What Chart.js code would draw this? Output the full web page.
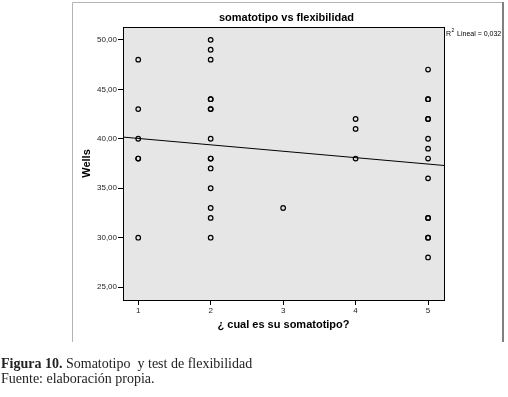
<!DOCTYPE html>
<html>
<head>
<meta charset="utf-8">
<script src="https://cdn.jsdelivr.net/npm/chart.js@4/dist/chart.umd.min.js"></script>
<style>
	html, body { margin: 0; padding: 0; background: #fff; }
	#wrap { position: relative; width: 508px; height: 397px; }
	#caption {
		position: absolute;
		left: 1px;
		top: 356px;
		font: 14px/15px "Liberation Serif", serif;
		color: #222;
	}
</style>
</head>
<body>
<div id="wrap">
	<canvas id="chart-somatotipo" width="508" height="397"></canvas>
	<div id="caption"><b>Figura 10.</b> Somatotipo&nbsp; y test de flexibilidad<br>Fuente: elaboración propia.</div>
</div>
<script>
// Chart data
const TIPOS = [1, 2, 3, 4, 5];
const WELLS_TIPO_1 = [48, 43, 40, 38, 38, 30];
const WELLS_TIPO_2 = [50, 49, 48, 44, 44, 43, 43, 40, 38, 38, 37, 35, 33, 32, 30];
const WELLS_TIPO_3 = [33];
const WELLS_TIPO_4 = [42, 41, 38];
const WELLS_TIPO_5 = [47, 44, 44, 42, 42, 40, 39, 38, 36, 32, 32, 30, 30, 28];
const Y_TICKS = [25, 30, 35, 40, 45, 50];

// Fitted line, end points read at the plot edges
const FIT_X = [0.79, 5.22];
const FIT_Y = [40.17, 37.3];

const TITLE = "somatotipo vs flexibilidad";
const R2_LABEL = "0,032";

const FONT = "'Liberation Sans', Arial, sans-serif";

const POINTS = [];
[WELLS_TIPO_1, WELLS_TIPO_2, WELLS_TIPO_3, WELLS_TIPO_4, WELLS_TIPO_5].forEach((values, i) => {
	values.forEach((v) => POINTS.push({ x: TIPOS[i], y: v }));
});

const FIT = FIT_X.map((x, i) => ({ x: x, y: FIT_Y[i] }));

// Frame, grey plot background, box, title and R2 note
const spssFrame = {
	id: "spssFrame",
	beforeDraw(chart) {
		const { ctx, chartArea: a } = chart;
		ctx.save();
		ctx.fillStyle = "#e6e6e6";
		ctx.fillRect(a.left, a.top, a.right - a.left, a.bottom - a.top);

		ctx.strokeStyle = "#b4b4b4";
		ctx.lineWidth = 1;
		ctx.beginPath();
		ctx.moveTo(72.5, 342);
		ctx.lineTo(72.5, 2.5);
		ctx.lineTo(502, 2.5);
		ctx.stroke();

		ctx.strokeStyle = "#808080";
		ctx.lineWidth = 2;
		ctx.beginPath();
		ctx.moveTo(503, 2);
		ctx.lineTo(503, 342);
		ctx.stroke();
		ctx.restore();
	},
	afterDraw(chart) {
		const { ctx, chartArea: a } = chart;
		ctx.save();
		ctx.strokeStyle = "#000";
		ctx.lineWidth = 1;
		ctx.strokeRect(Math.round(a.left) + 0.5, Math.round(a.top) + 0.5, Math.round(a.right - a.left), Math.round(a.bottom - a.top));

		ctx.fillStyle = "#000";
		ctx.textAlign = "center";
		ctx.textBaseline = "alphabetic";
		ctx.font = "bold 11px " + FONT;
		ctx.fillText(TITLE, (a.left + a.right) / 2 + 3, 21);

		ctx.textAlign = "left";
		ctx.font = "7px " + FONT;
		ctx.fillText("R", a.right + 2, 36);
		let x = a.right + 2 + ctx.measureText("R").width;
		ctx.font = "5px " + FONT;
		ctx.fillText("2", x + 0.5, 32);
		x += 6;
		ctx.font = "7px " + FONT;
		ctx.fillText("Lineal = " + R2_LABEL, x, 36);
		ctx.restore();
	},
};

const TICK_FONT = { family: FONT, size: 8 };
const AXIS_TITLE_FONT = { family: FONT, size: 11, weight: "bold" };

const CHART_CONFIG = {
	type: "scatter",
	data: {
		datasets: [
			{
				label: "Wells",
				data: POINTS,
				pointStyle: "circle",
				pointRadius: 2.3,
				pointBorderWidth: 1.2,
				pointBorderColor: "#000",
				pointBackgroundColor: "transparent",
			},
			{
				label: "Lineal",
				data: FIT,
				showLine: true,
				borderColor: "#000",
				borderWidth: 1,
				pointRadius: 0,
			},
		],
	},
	options: {
		responsive: false,
		animation: false,
		layout: {
			padding: { left: 72, right: 64, top: 27, bottom: 52 },
		},
		scales: {
			x: {
				type: "linear",
				min: 0.79,
				max: 5.22,
				afterBuildTicks: (scale) => {
					scale.ticks = TIPOS.map((v) => ({ value: v }));
				},
				afterFit: (scale) => {
					scale.height = 45;
				},
				border: { display: true, color: "#000", width: 1 },
				grid: {
					drawOnChartArea: false,
					drawTicks: true,
					tickLength: 5,
					tickColor: "#000",
				},
				ticks: {
					font: TICK_FONT,
					color: "#222",
					padding: 1,
					maxRotation: 0,
					callback: (v) => String(v),
				},
				title: {
					display: true,
					text: "¿ cual es su somatotipo?",
					font: AXIS_TITLE_FONT,
					color: "#000",
					padding: { top: 0, bottom: 13 },
				},
			},
			y: {
				type: "linear",
				min: 23.7,
				max: 51.3,
				afterBuildTicks: (scale) => {
					scale.ticks = Y_TICKS.map((v) => ({ value: v }));
				},
				afterFit: (scale) => {
					scale.width = 51;
				},
				border: { display: true, color: "#000", width: 1 },
				grid: {
					drawOnChartArea: false,
					drawTicks: true,
					tickLength: 5,
					tickColor: "#000",
				},
				ticks: {
					font: TICK_FONT,
					color: "#222",
					padding: 1,
					callback: (v) => v.toFixed(2).replace(".", ","),
				},
				title: {
					display: true,
					text: "Wells",
					font: AXIS_TITLE_FONT,
					color: "#000",
					padding: { top: 8, bottom: 0 },
				},
			},
		},
		plugins: {
			legend: { display: false },
			tooltip: { enabled: false },
		},
	},
	plugins: [spssFrame],
};

const CHART_WRAPPER = document.getElementById("chart-somatotipo");
if (CHART_WRAPPER) {
	new Chart(CHART_WRAPPER, CHART_CONFIG);
}
</script>
</body>
</html>
